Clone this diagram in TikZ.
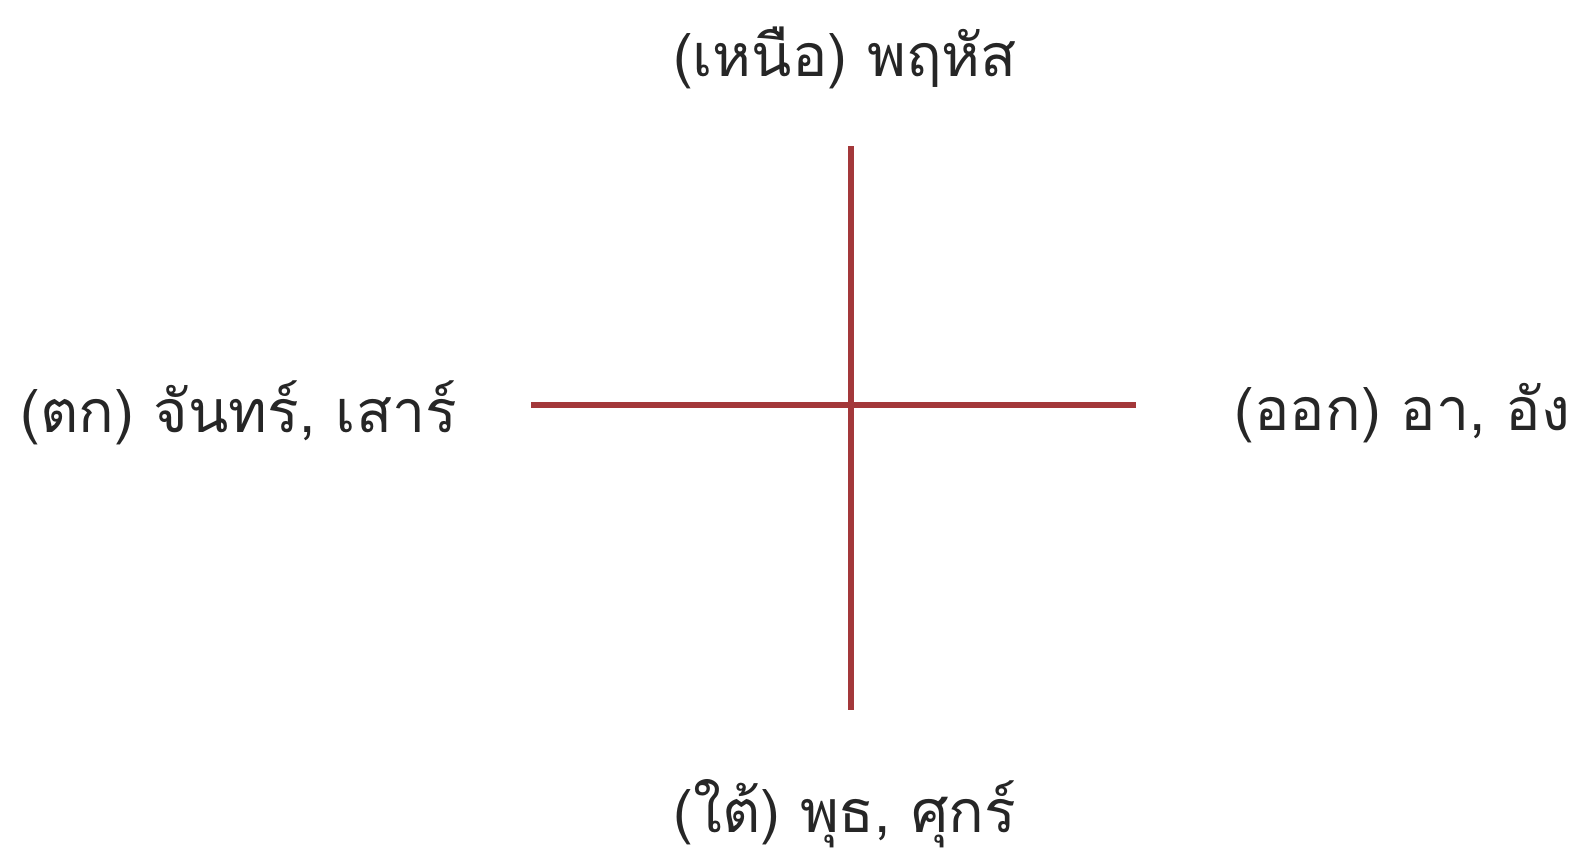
\documentclass[tikz,border=0pt]{standalone}
\usepackage{fontspec}
\newfontfamily\thaifont[Script=Thai]{Loma}
\definecolor{crossred}{HTML}{A3383A}
\tikzset{
  dirlabel/.style={font=\thaifont\fontsize{16.8}{20}\selectfont, text=black!85, inner sep=0pt},
  crossline/.style={draw=crossred, line width=1.7pt}
}
\begin{document}
\begin{tikzpicture}
\useasboundingbox (0,0) rectangle (15.80,8.56);
\coordinate (top) at (8.51,7.10);
\coordinate (bottom) at (8.51,1.46);
\coordinate (left) at (5.31,4.51);
\coordinate (right) at (11.36,4.51);
\node[dirlabel] (north) at (8.45,7.98) {(เหนือ) พฤหัส};
\node[dirlabel, anchor=west] (west) at (0.20,4.43) {(ตก) จันทร์, เสาร์};
\node[dirlabel, anchor=west] (east) at (12.34,4.43) {(ออก) อา, อัง};
\node[dirlabel] (south) at (8.45,0.42) {(ใต้) พุธ, ศุกร์};
\draw[crossline] (top) -- (bottom);
\draw[crossline] (left) -- (right);
\end{tikzpicture}
\end{document}
